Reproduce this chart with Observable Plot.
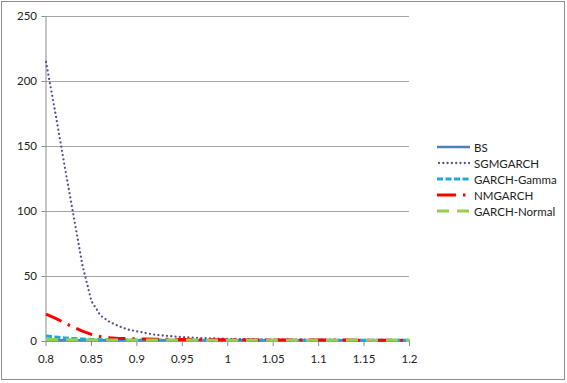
<!DOCTYPE html>
<html>
<head>
<meta charset="utf-8">
<script src="https://cdn.jsdelivr.net/npm/d3@7"></script>
<script src="https://cdn.jsdelivr.net/npm/@observablehq/plot@0.6"></script>
<style>
  html, body { margin: 0; padding: 0; background: #fff; }
  #wrap { position: relative; width: 567px; height: 383px; overflow: hidden; font-family: Lato, "Open Sans", sans-serif; }
  #frame { position: absolute; left: 1px; top: 1px; width: 562px; height: 377px; border: 1.5px solid #8f8f8f; pointer-events: none; }
  #legend { position: absolute; left: 437px; top: 139px; font-size: 11.5px; color: #222; }
  .item { display: flex; align-items: center; height: 16.1px; }
  .item svg { margin-right: 4px; }
</style>
</head>
<body>
<div id="wrap"><div id="frame"></div><div id="legend"></div></div>
<script>
// Strike / moneyness values
const xs = [0.80,0.81,0.82,0.83,0.84,0.85,0.86,0.87,0.88,0.89,0.90,0.91,0.92,0.93,0.94,0.95,0.96,0.97,0.98,0.99,1.00,
            1.01,1.02,1.03,1.04,1.05,1.06,1.07,1.08,1.09,1.10,1.11,1.12,1.13,1.14,1.15,1.16,1.17,1.18,1.19,1.20];
const seriesNames = ["BS","SGMGARCH","GARCH-Gamma","NMGARCH","GARCH-Normal"];
const bs = [1,1,1,1,1,1,1,1,1,1,1,1,1,1,1,1,1,1,1,1,1,1,1,1,1,1,1,1,1,1,1,1,1,1,1,1,1,1,1,1,1];
const sgmgarch = [215,177,137,98,59,31,20,15,11.8,9.2,7.8,6.5,5.2,4.5,3.9,3.4,3.0,2.7,2.4,2.2,2.0,
                  1.9,1.8,1.7,1.65,1.6,1.55,1.5,1.45,1.4,1.4,1.35,1.3,1.3,1.25,1.25,1.2,1.2,1.2,1.15,1.15];
const garchGamma = [4.3,3.5,2.8,2.3,1.9,1.6,1.4,1.3,1.2,1.15,1.1,1.1,1.08,1.06,1.05,1.05,1.04,1.03,1.03,1.02,1.02,
                    1.02,1.01,1.01,1.01,1.01,1,1,1,1,1,1,1,1,1,1,1,1,1,1,1];
const nmgarch = [21,18,14.5,11,8,5.5,3.8,2.9,2.4,2.2,2.0,1.9,1.8,1.7,1.6,1.55,1.5,1.45,1.4,1.35,1.3,
                 1.3,1.25,1.25,1.2,1.2,1.2,1.15,1.15,1.15,1.1,1.1,1.1,1.1,1.05,1.05,1.05,1.05,1.0,1.0,1.0];
const garchNormal = [1.5,1.45,1.4,1.35,1.3,1.25,1.2,1.18,1.16,1.14,1.12,1.1,1.1,1.08,1.08,1.06,1.06,1.05,1.05,1.04,1.04,
                     1.03,1.03,1.02,1.02,1.02,1.01,1.01,1.01,1.01,1,1,1,1,1,1,1,1,1,1,1];
const xTicks = [0.8,0.85,0.9,0.95,1,1.05,1.1,1.15,1.2];
const yTicks = [0,50,100,150,200,250];

const styles = {
  "BS":           {stroke: "#4F81BD", dash: null,        width: 2.6, cap: "butt"},
  "SGMGARCH":     {stroke: "#5E4A8E", dash: "0 4.3",     width: 2.3, cap: "round"},
  "GARCH-Gamma":  {stroke: "#1FA7E0", dash: "6 2.5",     width: 3,   cap: "butt"},
  "NMGARCH":      {stroke: "#FF0000", dash: "17 7 2.5 7", width: 3,  cap: "butt"},
  "GARCH-Normal": {stroke: "#92D050", dash: "12 8",      width: 3,   cap: "butt"}
};
const valuesBySeries = {"BS": bs, "SGMGARCH": sgmgarch, "GARCH-Gamma": garchGamma, "NMGARCH": nmgarch, "GARCH-Normal": garchNormal};

const lineMarks = seriesNames.map(name => {
  const st = styles[name];
  const data = xs.map((x, i) => ({x, y: valuesBySeries[name][i]}));
  return Plot.line(data, {x: "x", y: "y", stroke: st.stroke, strokeWidth: st.width,
    strokeDasharray: st.dash, strokeLinecap: st.cap, strokeLinejoin: "round"});
});

const chart = Plot.plot({
  width: 567,
  height: 383,
  marginLeft: 45.5,
  marginRight: 158,
  marginTop: 16,
  marginBottom: 42,
  style: {fontFamily: "Lato, 'Open Sans', sans-serif", fontSize: "11.5px", color: "#222", background: "transparent"},
  x: {domain: [0.8, 1.2], ticks: xTicks, tickFormat: d => String(+d.toFixed(2)), tickSize: 5, tickPadding: 8, label: null},
  y: {domain: [0, 250], ticks: yTicks, tickSize: 4, tickPadding: 5, label: null},
  marks: [
    Plot.gridY(yTicks, {stroke: "#a6a6a6", strokeOpacity: 1, strokeWidth: 1}),
    Plot.axisX({ticks: xTicks, tickFormat: d => String(+d.toFixed(2)), tickSize: 5, tickPadding: 8, stroke: "#8c8c8c", fill: "#222"}),
    Plot.axisY({ticks: yTicks, tickSize: 4, tickPadding: 5, stroke: "#8c8c8c", fill: "#222"}),
    Plot.ruleX([0.8], {stroke: "#8c8c8c"}),
    ...lineMarks
  ]
});
document.getElementById("wrap").prepend(chart);

// Legend
const legend = document.getElementById("legend");
seriesNames.forEach(name => {
  const st = styles[name];
  const item = document.createElement("div");
  item.className = "item";
  const ns = "http://www.w3.org/2000/svg";
  const svg = document.createElementNS(ns, "svg");
  svg.setAttribute("width", 33); svg.setAttribute("height", 8);
  const ln = document.createElementNS(ns, "line");
  ln.setAttribute("x1", name === "SGMGARCH" ? 2 : 0); ln.setAttribute("x2", 33); ln.setAttribute("y1", 4); ln.setAttribute("y2", 4);
  ln.setAttribute("stroke", st.stroke); ln.setAttribute("stroke-width", st.width);
  if (st.dash) ln.setAttribute("stroke-dasharray", name === "NMGARCH" ? "19 7 2.5 7" : st.dash);
  ln.setAttribute("stroke-linecap", st.cap);
  svg.appendChild(ln);
  item.appendChild(svg);
  const t = document.createElement("span");
  t.textContent = name;
  item.appendChild(t);
  legend.appendChild(item);
});
</script>
</body>
</html>
